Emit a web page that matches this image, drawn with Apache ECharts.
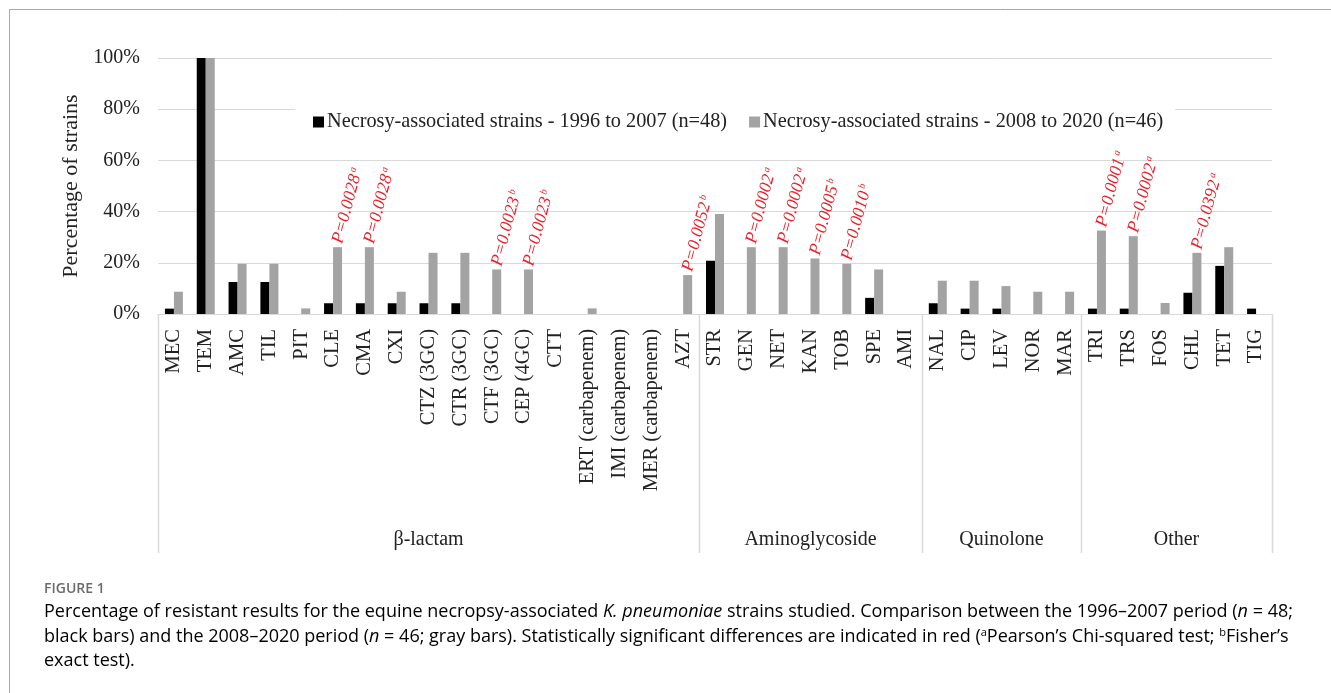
<!DOCTYPE html>
<html>
<head>
<meta charset="utf-8">
<script src="https://cdn.jsdelivr.net/npm/echarts@6/dist/echarts.min.js"></script>
<style>
html,body{margin:0;padding:0;background:#fff;}
#chart{width:1331px;height:693px;}
</style>
</head>
<body>
<div id="chart"></div>
<script>
const categories = ['MEC','TEM','AMC','TIL','PIT','CLE','CMA','CXI','CTZ (3GC)','CTR (3GC)','CTF (3GC)','CEP (4GC)','CTT','ERT (carbapenem)','IMI (carbapenem)','MER (carbapenem)','AZT','STR','GEN','NET','KAN','TOB','SPE','AMI','NAL','CIP','LEV','NOR','MAR','TRI','TRS','FOS','CHL','TET','TIG'];
const period1 = [2.1,100,12.5,12.5,0,4.2,4.2,4.2,4.2,4.2,0,0,0,0,0,0,0,20.8,0,0,0,0,6.3,0,4.2,2.1,2.1,0,0,2.1,2.1,0,8.3,18.8,2.1];
const period2 = [8.7,100,19.6,19.6,2.2,26.1,26.1,8.7,23.9,23.9,17.4,17.4,0,2.2,0,0,15.2,39.1,26.1,26.1,21.7,19.6,17.4,0,13.0,13.0,10.9,8.7,8.7,32.6,30.4,4.3,23.9,26.1,0];
const pValues = ['','','','','','0.0028','0.0028','','','','0.0023','0.0023','','','','','0.0052','','0.0002','0.0002','0.0005','0.0010','','','','','','','','0.0001','0.0002','','0.0392','',''];
const testMarks = ['','','','','','a','a','','','','b','b','','','','','b','','a','a','b','b','','','','','','','','a','a','','a','',''];
const groupNames = ['β-lactam','Aminoglycoside','Quinolone','Other'];
const groupSizes = [17,7,5,6];
const yTicks = {min:0, max:100, interval:20};
const seriesNames = ['Necrosy-associated strains - 1996 to 2007 (n=48)','Necrosy-associated strains - 2008 to 2020 (n=46)'];

const SERIF = '"Liberation Serif","Times New Roman",serif';
const SANS = '"Open Sans","Noto Sans",sans-serif';
const chart = echarts.init(document.getElementById('chart'));

const option = {
  backgroundColor:'#fff',
  animation:false,
  grid:{left:158, right:59, top:58, bottom:379, containLabel:false},
  legend:{
    left:295, top:106,
    itemWidth:11, itemHeight:11, itemGap:22,
    icon:'rect',
    backgroundColor:'#fff',
    padding:[6,12,6,18],
    textStyle:{fontFamily:SERIF, fontSize:20.3, color:'#222', padding:[0,0,0,-2]},
    data:seriesNames
  },
  xAxis:{
    type:'category',
    data:categories,
    axisLine:{show:true, lineStyle:{color:'#d9d9d9', width:1}},
    axisTick:{show:false},
    axisLabel:{interval:0, rotate:90, margin:15, fontFamily:SERIF, fontSize:20.5, color:'#222'}
  },
  yAxis:{
    type:'value',
    min:yTicks.min, max:yTicks.max, interval:yTicks.interval,
    name:'Percentage of strains',
    nameLocation:'middle',
    nameGap:72,
    nameTextStyle:{fontFamily:SERIF, fontSize:22, color:'#222'},
    axisLine:{show:false},
    axisTick:{show:false},
    axisLabel:{formatter:'{value}%', margin:18, fontFamily:SERIF, fontSize:20, color:'#222'},
    splitLine:{lineStyle:{color:'#d9d9d9', width:1}}
  },
  series:[
    {name:seriesNames[0], type:'bar', data:period1, barWidth:9, barGap:'0%', itemStyle:{color:'#000'}},
    {name:seriesNames[1], type:'bar', data:period2, barWidth:9, itemStyle:{color:'#a3a3a3'},
      label:{
        show:true, position:'top', distance:4, rotate:75, align:'left', verticalAlign:'middle',
        formatter:function(p){
          const v = pValues[p.dataIndex];
          return v ? '{p|P=' + v + '}{s|' + testMarks[p.dataIndex] + '}' : '';
        },
        rich:{
          p:{fontFamily:SERIF, fontStyle:'italic', fontSize:17.5, color:'#ee1c25'},
          s:{fontFamily:SERIF, fontStyle:'italic', fontSize:10, color:'#ee1c25', verticalAlign:'top', padding:[0,0,6,2]}
        }
      }
    }
  ]
};
chart.setOption(option);

function buildGraphics(){
  const xs = categories.map(c => chart.convertToPixel({xAxisIndex:0}, c));
  const bw = xs[1] - xs[0];
  const y0 = chart.convertToPixel({yAxisIndex:0}, 0);
  const g = [];
  // frame
  g.push({type:'line', shape:{x1:9, y1:9.5, x2:1331, y2:9.5}, style:{stroke:'#a8a8a8', lineWidth:1}});
  g.push({type:'line', shape:{x1:9.5, y1:9, x2:9.5, y2:693}, style:{stroke:'#a8a8a8', lineWidth:1}});
  // group separators and labels
  let start = 0;
  const bounds = [0];
  groupSizes.forEach(n => { start += n; bounds.push(start); });
  bounds.forEach(b => {
    const x = Math.round((b < categories.length ? xs[b] - bw/2 : xs[categories.length-1] + bw/2)) + 0.5;
    g.push({type:'line', shape:{x1:x, y1:y0, x2:x, y2:y0+239}, style:{stroke:'#d9d9d9', lineWidth:1.5}});
  });
  groupNames.forEach((name, i) => {
    const a = bounds[i], b = bounds[i+1];
    const cx = (xs[a] - bw/2 + xs[b-1] + bw/2) / 2;
    g.push({type:'text', x:cx, y:y0+226, style:{text:name, font:'20px ' + SERIF, fill:'#222', textAlign:'center', textVerticalAlign:'middle'}});
  });
  // caption
  g.push({type:'text', x:44, y:589, style:{text:'FIGURE 1', font:'600 14px ' + SANS, fill:'#6b6b6b', textAlign:'left', textVerticalAlign:'middle'}});
  const capRich = {
    r:{fontFamily:SANS, fontSize:18, color:'#666'},
    i:{fontFamily:SANS, fontSize:18, fontStyle:'italic', color:'#666'},
    s:{fontFamily:SANS, fontSize:11, color:'#666', verticalAlign:'top'}
  };
  const lines = [
    '{r|Percentage of resistant results for the equine necropsy-associated }{i|K. pneumoniae}{r| strains studied. Comparison between the 1996–2007 period (}{i|n}{r| = 48;}',
    '{r|black bars) and the 2008–2020 period (}{i|n}{r| = 46; gray bars). Statistically significant differences are indicated in red (}{s|a}{r|Pearson’s Chi-squared test; }{s|b}{r|Fisher’s}',
    '{r|exact test).}'
  ];
  lines.forEach((t, i) => {
    g.push({type:'text', x:44, y:612 + i*24.5, style:{text:t, rich:capRich, textAlign:'left', textVerticalAlign:'middle'}});
  });
  chart.setOption({graphic:g});
}
buildGraphics();
</script>
</body>
</html>
